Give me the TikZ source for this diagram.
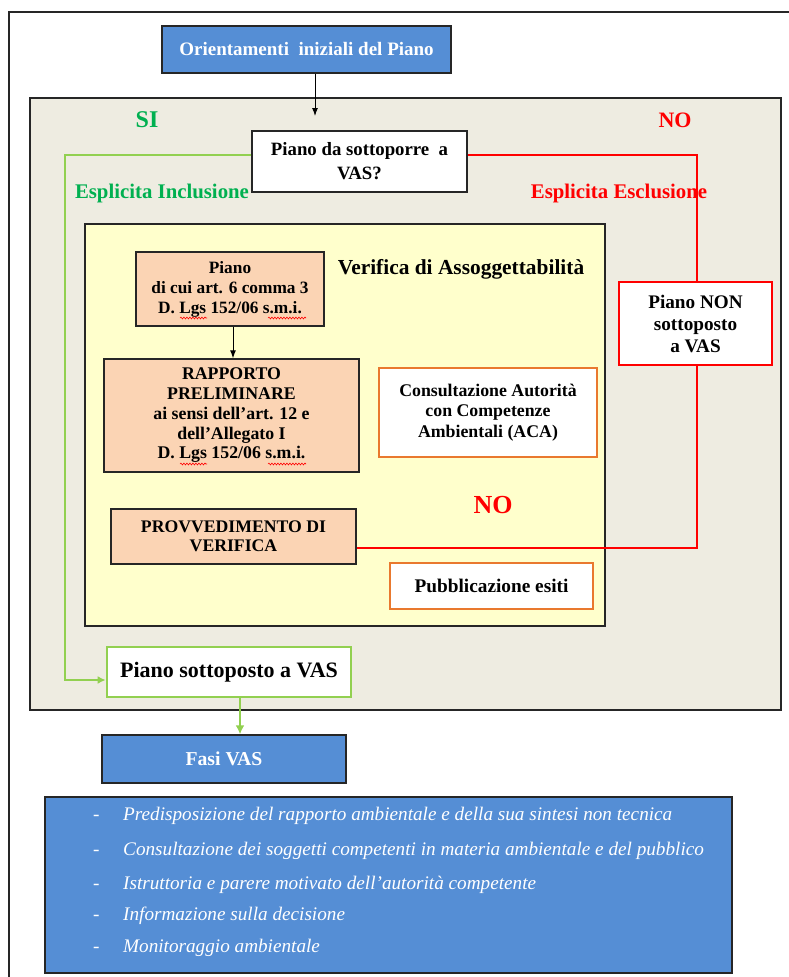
\documentclass[tikz,border=0pt]{standalone}
\usepackage{fontspec}
\setmainfont{Liberation Serif}
\usetikzlibrary{arrows.meta,decorations.pathmorphing}
\definecolor{vasblue}{HTML}{558ED5}
\definecolor{vasgray}{HTML}{EEECE1}
\definecolor{vasyellow}{HTML}{FFFFCC}
\definecolor{vaspeach}{HTML}{FBD4B4}
\definecolor{vasorange}{HTML}{E9792E}
\definecolor{vasgreen}{HTML}{00B050}
\definecolor{vaslgreen}{HTML}{92D050}
\definecolor{vasred}{HTML}{FF0000}
\tikzset{
  box/.style={rectangle, inner sep=0pt, align=center, font=\bfseries},
  bluebox/.style={box, fill=vasblue, draw=black!85, line width=1.4pt, text=white},
  whitebox/.style={box, fill=white, draw=black!85, line width=1.4pt},
  peachbox/.style={box, fill=vaspeach, draw=black!85, line width=1.4pt},
  orangebox/.style={box, fill=white, draw=vasorange, line width=2.6pt},
  redbox/.style={box, fill=white, draw=vasred, line width=1.6pt},
  greenbox/.style={box, fill=white, draw=vaslgreen, line width=2.8pt},
  lbl/.style={inner sep=0pt, font=\bfseries},
  item/.style={inner sep=0pt, anchor=base west, text=white, font=\itshape\fontsize{19.2}{21}\selectfont},
  redline/.style={draw=vasred, line width=1.4pt},
  greenline/.style={draw=vaslgreen, line width=2.4pt},
  blackarrow/.style={draw=black, line width=1pt, -{Latex[length=8pt,width=6pt]}},
  squiggle/.style={draw=vasred, line width=0.6pt, decorate, decoration={snake, amplitude=0.9pt, segment length=3pt}},
}
\begin{document}
\begin{tikzpicture}[x=1pt,y=-1pt]
\useasboundingbox (0,0) rectangle (789,977);
% outer frame
\draw[black!85, line width=1.4pt] (9,977) -- (9,12) -- (789,12);
% gray and yellow areas
\draw[black!85, line width=1.4pt, fill=vasgray] (30,98) rectangle (781,710);
\draw[black!85, line width=1.4pt, fill=vasyellow] (85,224) rectangle (605,626);

% nodes
\node[bluebox, minimum width=289pt, minimum height=47pt, font=\bfseries\fontsize{19}{21}\selectfont] (orient) at (306.5,49.5) {Orientamenti\ \ iniziali del Piano};
\node[lbl, text=vasgreen, font=\bfseries\fontsize{24}{26}\selectfont] (si) at (147,120) {SI};
\node[lbl, text=vasred, font=\bfseries\fontsize{22}{24}\selectfont] (no1) at (675,120) {NO};
\node[whitebox, minimum width=215pt, minimum height=61pt, font=\bfseries\fontsize{18.8}{24}\selectfont] (q) at (359.5,161.5) {Piano da sottoporre\ \ a\\VAS?};
\node[lbl, text=vasgreen, font=\bfseries\fontsize{20.8}{22}\selectfont] (incl) at (162,193) {Esplicita Inclusione};
\node[lbl, text=vasred, font=\bfseries\fontsize{20.8}{22}\selectfont] (escl) at (619,193) {Esplicita Esclusione};
\node[lbl, font=\bfseries\fontsize{21.4}{23}\selectfont] (verif) at (461,269) {Verifica di Assoggettabilità};
\node[peachbox, minimum width=188pt, minimum height=74pt, font=\bfseries\fontsize{17.3}{20}\selectfont] (piano) at (230,289) {Piano\\di cui art. 6 comma 3\\D. Lgs 152/06 s.m.i.};
\node[peachbox, minimum width=255pt, minimum height=113pt, font=\bfseries\fontsize{17.8}{19.75}\selectfont] (rapp) at (231.5,415.5) {RAPPORTO\\PRELIMINARE\\ai sensi dell’art. 12 e\\dell’Allegato I\\D. Lgs 152/06 s.m.i.};
\node[orangebox, minimum width=218pt, minimum height=89pt, font=\bfseries\fontsize{17.8}{20.5}\selectfont] (cons) at (488,412.5) {Consultazione Autorità\\con Competenze\\Ambientali (ACA)};
\node[lbl, text=vasred, font=\bfseries\fontsize{26}{28}\selectfont] (no2) at (493,505) {NO};
\node[peachbox, minimum width=245pt, minimum height=55pt, font=\bfseries\fontsize{17.7}{19.5}\selectfont] (prov) at (233.5,536.5) {PROVVEDIMENTO DI\\VERIFICA};
\node[orangebox, minimum width=203pt, minimum height=46pt, font=\bfseries\fontsize{19.3}{21}\selectfont] (pubb) at (491.5,586) {Pubblicazione esiti};
\node[redbox, minimum width=153pt, minimum height=83pt, font=\bfseries\fontsize{19.2}{22}\selectfont] (non) at (695.5,323.5) {Piano NON\\sottoposto\\a VAS};
\node[greenbox, minimum width=244pt, minimum height=50pt, font=\bfseries\fontsize{22}{24}\selectfont] (sott) at (229,672) {Piano sottoposto a VAS};
\node[bluebox, minimum width=244pt, minimum height=48pt, font=\bfseries\fontsize{19.7}{21}\selectfont] (fasi) at (224,759) {Fasi VAS};
\node[bluebox, minimum width=687pt, minimum height=176pt] (big) at (388.5,885) {};

% list items
\foreach \n/\y/\t in {1/820/{Predisposizione del rapporto ambientale e della sua sintesi non tecnica},
                      2/855/{Consultazione dei soggetti competenti in materia ambientale e del pubblico},
                      3/889/{Istruttoria e parere motivato dell’autorità competente},
                      4/920/{Informazione sulla decisione},
                      5/952/{Monitoraggio ambientale}}{
  \node[item] (d\n) at (93,\y) {-};
  \node[item] (i\n) at (123,\y) {\t};
}

% spell-check squiggles
\draw[squiggle] (180,318) -- (207,318);
\draw[squiggle] (268,318) -- (306,318);
\draw[squiggle] (180,464) -- (207,464);
\draw[squiggle] (268,464) -- (306,464);

% connector helper coordinates
\coordinate (a1) at (315,116);
\coordinate (gl1) at (65,155);
\coordinate (gl2) at (65,680);
\coordinate (rl1) at (697,155);
\coordinate (rl2) at (697,548);
\coordinate (pa) at (233,0);
\coordinate (ga) at (240,0);

% connectors
\draw[blackarrow] (orient.south -| a1) -- (a1);
\draw[blackarrow] (piano.south -| pa) -- (rapp.north -| pa);
\draw[greenline, -{Latex[length=8pt,width=8pt]}] (q.west |- gl1) -- (gl1) -- (gl2) -- (sott.west |- gl2);
\draw[greenline, -{Latex[length=9pt,width=9pt]}] (sott.south -| ga) -- (fasi.north -| ga);
\draw[redline] (q.east |- rl1) -- (rl1) -- (non.north -| rl1);
\draw[redline] (non.south -| rl2) -- (rl2) -- (prov.east |- rl2);
\end{tikzpicture}
\end{document}
